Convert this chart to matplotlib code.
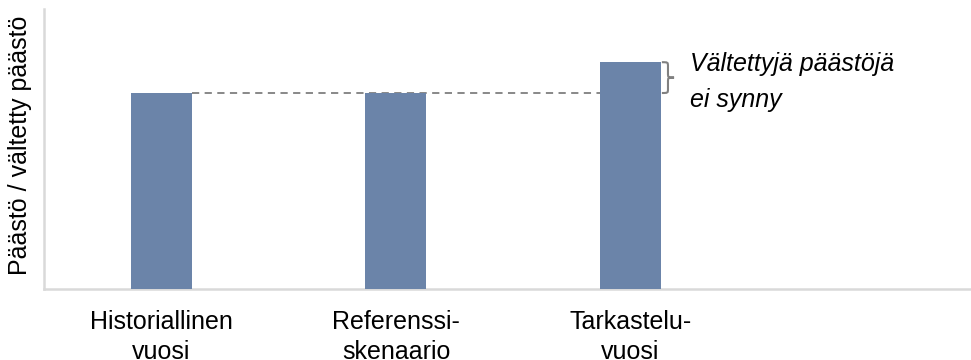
import matplotlib
matplotlib.use("Agg")
import matplotlib.pyplot as plt
from matplotlib.path import Path
from matplotlib.patches import PathPatch

plt.rcParams['font.family'] = ['Liberation Sans', 'DejaVu Sans']

# categories and emission levels
categories = ["Historiallinen\nvuosi", "Referenssi-\nskenaario", "Tarkastelu-\nvuosi"]
values = [70, 70, 81]
baseline = values[0]
ylabel = "Päästö / vältetty päästö"
note_lines = ["Vältettyjä päästöjä", "ei synny"]

bar_color = "#6B84A9"
axis_color = "#D9D9D9"
width = 0.26

fig = plt.figure(figsize=(9.71, 3.6), dpi=100)
ax = fig.add_axes([44 / 971, 71 / 360, 926 / 971, 280 / 360])

x = list(range(len(categories)))
ax.bar(x, values, width=width, color=bar_color, zorder=3)

# dashed reference level from first bar to last bar
ax.plot([x[0] + width / 2, x[2] - width / 2], [baseline, baseline],
        color="#7F7F7F", lw=1.3, ls=(0, (4, 3)), zorder=2)

# curly brace beside the last bar
x0 = x[2] + width / 2 + 0.004
w = 0.052
y0, y1 = baseline, values[2]
ym = (y0 + y1) / 2
q = 1.6
xm = x0 + w / 2
verts = [
    (x0, y1), (xm, y1), (xm, y1), (xm, y1 - q),
    (xm, ym + q),
    (xm, ym), (xm, ym), (x0 + w, ym),
    (xm, ym), (xm, ym), (xm, ym - q),
    (xm, y0 + q),
    (xm, y0), (xm, y0), (x0, y0),
]
codes = [Path.MOVETO, Path.CURVE4, Path.CURVE4, Path.CURVE4,
         Path.LINETO,
         Path.CURVE4, Path.CURVE4, Path.CURVE4,
         Path.CURVE4, Path.CURVE4, Path.CURVE4,
         Path.LINETO,
         Path.CURVE4, Path.CURVE4, Path.CURVE4]
ax.add_patch(PathPatch(Path(verts, codes), fill=False, edgecolor="#808080", lw=1.5, zorder=4))

ax.text(2.254, 80.5, note_lines[0], fontsize=18, style="italic", va="center", ha="left")
ax.text(2.254, 67.5, note_lines[1], fontsize=18, style="italic", va="center", ha="left")

ax.set_xlim(-0.501, 3.448)
ax.set_ylim(0, 100)
ax.set_xticks(x)
ax.set_xticklabels(categories, fontsize=18, linespacing=1.3)
ax.tick_params(axis="x", length=0, pad=15)
ax.set_yticks([])

for side in ["top", "right"]:
    ax.spines[side].set_visible(False)
for side in ["left", "bottom"]:
    ax.spines[side].set_color(axis_color)
    ax.spines[side].set_linewidth(1.8)

fig.text(20 / 971, 1 - 145 / 360, ylabel, rotation=90, fontsize=18, ha="center", va="center")

fig.savefig("out.png", dpi=100)
